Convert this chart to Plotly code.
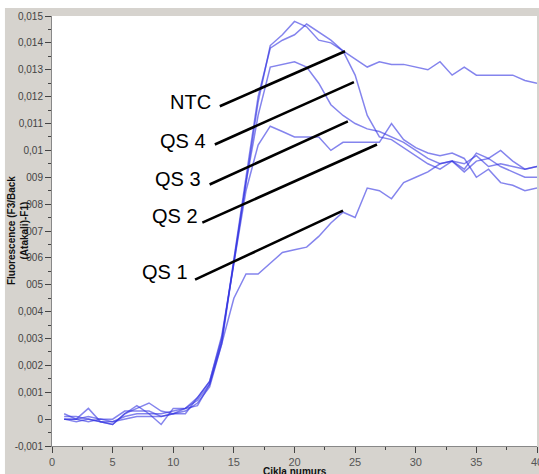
import plotly.graph_objects as go

cycles = list(range(1, 41))

ntc = [0.0002, 0.0000, 0.0004, -0.0001, -0.0002, 0.0002, 0.0004, 0.0006, 0.0003, 0.0002, 0.0004, 0.0008,
       0.0014, 0.0030, 0.0058, 0.0088, 0.0118, 0.0139, 0.0143, 0.0148, 0.0146, 0.0141, 0.0140, 0.0137,
       0.0134, 0.0131, 0.0133, 0.0132, 0.0132, 0.0131, 0.0130, 0.0133, 0.0128, 0.0131, 0.0128, 0.0128,
       0.0128, 0.0128, 0.0126, 0.0125]
qs4 = [0.0000, 0.0000, -0.0001, 0.0000, -0.0001, 0.0001, 0.0002, 0.0002, 0.0002, 0.0003, 0.0004, 0.0007,
       0.0013, 0.0029, 0.0060, 0.0090, 0.0120, 0.0138, 0.0141, 0.0143, 0.0147, 0.0144, 0.0141, 0.0137,
       0.0128, 0.0113, 0.0105, 0.0104, 0.0101, 0.0098, 0.0095, 0.0093, 0.0096, 0.0092, 0.0096, 0.0097,
       0.0094, 0.0092, 0.0090, 0.0090]
qs3 = [0.0000, -0.0001, 0.0000, -0.0001, -0.0001, 0.0000, 0.0001, 0.0001, 0.0001, 0.0002, 0.0003, 0.0006,
       0.0012, 0.0028, 0.0059, 0.0088, 0.0113, 0.0131, 0.0132, 0.0133, 0.0131, 0.0125, 0.0117, 0.0113,
       0.0110, 0.0108, 0.0107, 0.0105, 0.0103, 0.0100, 0.0097, 0.0095, 0.0096, 0.0095, 0.0098, 0.0094,
       0.0095, 0.0094, 0.0093, 0.0094]
qs2 = [0.0000, 0.0000, 0.0001, 0.0000, 0.0000, 0.0003, 0.0003, 0.0003, 0.0001, 0.0002, 0.0002, 0.0008,
       0.0014, 0.0031, 0.0058, 0.0085, 0.0102, 0.0109, 0.0107, 0.0105, 0.0105, 0.0105, 0.0100, 0.0103,
       0.0103, 0.0103, 0.0103, 0.0110, 0.0104, 0.0101, 0.0099, 0.0098, 0.0099, 0.0097, 0.0090, 0.0093,
       0.0088, 0.0087, 0.0085, 0.0086]
qs1 = [0.0001, 0.0001, 0.0000, -0.0001, -0.0002, 0.0002, 0.0005, 0.0002, -0.0002, 0.0004, 0.0004, 0.0005,
       0.0013, 0.0028, 0.0045, 0.0054, 0.0054, 0.0058, 0.0062, 0.0063, 0.0064, 0.0068, 0.0073, 0.0077,
       0.0075, 0.0086, 0.0085, 0.0082, 0.0088, 0.0090, 0.0092, 0.0095, 0.0096, 0.0093, 0.0099, 0.0097,
       0.0100, 0.0096, 0.0093, 0.0094]

series = [ntc, qs4, qs3, qs2, qs1]

label_names = ["NTC", "QS 4", "QS 3", "QS 2", "QS 1"]
label_x = [13.26, 12.85, 12.44, 12.19, 11.36]
label_y = [0.01179, 0.01034, 0.00892, 0.00754, 0.00549]
leader_x0 = [13.84, 13.43, 13.0, 12.4, 11.8]
leader_y0 = [0.01164, 0.01022, 0.00873, 0.00731, 0.00519]
leader_x1 = [24.17, 24.9, 24.4, 26.8, 24.0]
leader_y1 = [0.01369, 0.01254, 0.01108, 0.01022, 0.00776]

y_tickvals = [0.015, 0.014, 0.013, 0.012, 0.011, 0.01, 0.009, 0.008, 0.007, 0.006, 0.005,
              0.004, 0.003, 0.002, 0.001, 0, -0.001]
y_ticktext = ["0,015", "0,014", "0,013", "0,012", "0,011", "0,01", "009", "008", "007", "006", "005",
              "0,004", "0,003", "0,002", "0,001", "0", "-0,001"]
x_tickvals = [0, 5, 10, 15, 20, 25, 30, 35]
x_last_tick = 40

fig = go.Figure()
for s in series:
    fig.add_trace(go.Scatter(x=cycles, y=s, mode="lines",
                             line=dict(color="rgba(50,50,225,0.6)", width=1.5),
                             showlegend=False, hoverinfo="skip"))

for i in range(len(label_names)):
    fig.add_shape(type="line", x0=leader_x0[i], y0=leader_y0[i], x1=leader_x1[i], y1=leader_y1[i],
                  xref="x", yref="y", line=dict(color="black", width=2.6))
    fig.add_annotation(x=label_x[i], y=label_y[i], text=label_names[i], showarrow=False,
                       xanchor="right", yanchor="middle",
                       font=dict(family="Liberation Sans, Arial", size=20, color="black"))

# thin white border outside the grey panel (left and top), as in the original screenshot
fig.add_shape(type="rect", xref="paper", yref="paper", x0=-0.2, x1=-0.097, y0=-0.2, y1=1.2,
              fillcolor="white", line_width=0, layer="above")
fig.add_shape(type="rect", xref="paper", yref="paper", x0=-0.2, x1=1.2, y0=1.0186, y1=1.2,
              fillcolor="white", line_width=0, layer="above")

# last x tick label, partly cut by the right edge as in the original
fig.add_annotation(x=1, y=0, xref="paper", yref="paper", text=str(x_last_tick), showarrow=False,
                   xanchor="center", yanchor="top", yshift=-8,
                   font=dict(family="Liberation Sans, Arial", size=11, color="#555"))

fig.add_annotation(x=-0.07, y=0.5, xref="paper", yref="paper", textangle=-90,
                   text="<b>Fluorescence (F3/Back</b><br><b>(Atakali)-F1)</b>", showarrow=False,
                   font=dict(family="Liberation Sans, Arial", size=10, color="#111"),
                   xanchor="center", yanchor="middle")
fig.add_annotation(x=0.5, y=-0.042, xref="paper", yref="paper",
                   text="<b>Cikla numurs</b>", showarrow=False,
                   font=dict(family="Liberation Sans, Arial", size=10, color="#111"),
                   xanchor="center", yanchor="top")

fig.update_xaxes(range=[0, 40], tickvals=x_tickvals + [x_last_tick],
                 ticktext=[str(v) for v in x_tickvals] + [""],
                 ticks="outside", ticklen=6, tickcolor="#444",
                 showgrid=False, zeroline=False, showline=True, linecolor="#888", mirror=False,
                 tickfont=dict(family="Liberation Sans, Arial", size=11, color="#555"),
                 minor=dict(tickvals=[2.5, 7.5, 12.5, 17.5, 22.5, 27.5, 32.5, 37.5],
                            ticks="outside", ticklen=3, tickcolor="#444"))
fig.update_yaxes(range=[-0.001, 0.015], tickvals=y_tickvals, ticktext=y_ticktext, ticks="outside",
                 ticklen=6, tickcolor="#444", showgrid=False, zeroline=False, showline=True,
                 linecolor="#888",
                 tickfont=dict(family="Liberation Sans, Arial", size=10, color="#444"),
                 minor=dict(dtick=0.0005, ticks="outside", ticklen=3, tickcolor="#444"))

fig.update_layout(width=539, height=474, margin=dict(l=52, r=2, t=16, b=28),
                  paper_bgcolor="#d6d3ce", plot_bgcolor="white")

fig.write_html("out.html", config={"displayModeBar": False},
               post_script="document.body.style.margin='0';document.body.style.overflow='hidden';")
